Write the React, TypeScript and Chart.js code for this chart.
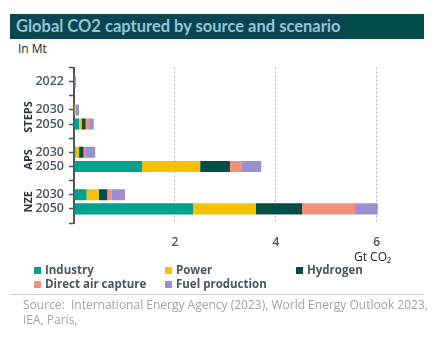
import React, { useEffect, useRef } from "react";
import { Chart, registerables } from "chart.js";

Chart.register(...registerables);

// Category rows (blank rows separate the scenario groups)
const rowLabels = ["", "2022", "", "2030", "2050", "", "2030", "2050", "", "2030", "2050", ""];
const scenarioNames = ["STEPS", "APS", "NZE"];
const scenarioRows = [
  [3, 4],
  [6, 7],
  [9, 10],
];

// Gt CO2
const industry = [null, 0, null, 0.01, 0.1, null, 0.03, 1.35, null, 0.25, 2.36, null];
const power = [null, 0, null, 0.01, 0.05, null, 0.07, 1.15, null, 0.24, 1.24, null];
const hydrogen = [null, 0, null, 0, 0.08, null, 0.09, 0.59, null, 0.17, 0.92, null];
const directAirCapture = [null, 0, null, 0.01, 0.07, null, 0.03, 0.24, null, 0.09, 1.05, null];
const fuelProduction = [null, 0.04, null, 0.07, 0.09, null, 0.2, 0.38, null, 0.26, 0.45, null];

const seriesNames = ["Industry", "Power", "Hydrogen", "Direct air capture", "Fuel production"];
const seriesColors = ["#00a18f", "#f4c200", "#004e49", "#f3907b", "#9a8fd1"];
const xTicks = [0, 2, 4, 6];

const AXIS = "#4a5560";
const FONT = "'Open Sans', 'Noto Sans', sans-serif";

export default function App() {
  const ref = useRef<HTMLCanvasElement | null>(null);

  useEffect(() => {
    if (!ref.current) return;
    const seriesData = [industry, power, hydrogen, directAirCapture, fuelProduction];
    const groupLabelPlugin = {
      id: "groupLabels",
      afterDraw(chart: any) {
        const ctx = chart.ctx;
        const y = chart.scales.y;
        ctx.save();
        ctx.font = `bold 11px ${FONT}`;
        ctx.fillStyle = "#2b3640";
        ctx.textAlign = "center";
        ctx.textBaseline = "middle";
        scenarioNames.forEach((name, i) => {
          const [a, b] = scenarioRows[i];
          const py = (y.getPixelForValue(a) + y.getPixelForValue(b)) / 2;
          ctx.save();
          ctx.translate(28.5, py);
          ctx.rotate(-Math.PI / 2);
          ctx.fillText(name, 0, 0);
          ctx.restore();
        });
        ctx.restore();
      },
    };

    const chart = new Chart(ref.current, {
      type: "bar",
      data: {
        labels: rowLabels,
        datasets: seriesNames.map((n, i) => ({
          label: n,
          data: seriesData[i] as any,
          backgroundColor: seriesColors[i],
          borderWidth: 0,
          barPercentage: 0.78,
          categoryPercentage: 1,
        })),
      },
      options: {
        indexAxis: "y",
        animation: false,
        responsive: false,
        maintainAspectRatio: false,
        layout: { padding: { top: 8, right: 40, bottom: 0, left: 0 } },
        plugins: { legend: { display: false }, tooltip: { enabled: false } },
        scales: {
          x: {
            type: "linear",
            stacked: true,
            min: 0,
            max: 6.5,
            afterBuildTicks: (s: any) => {
              s.ticks = xTicks.map((v) => ({ value: v }));
            },
            afterFit: (s: any) => {
              s.height = 42;
            },
            grid: {
              drawTicks: false,
              color: (c: any) => (c.tick && c.tick.value === 0 ? "rgba(0,0,0,0)" : "#b5b5b5"),
              lineWidth: 1,
            },
            border: { display: false, dash: [2, 2] },
            ticks: {
              padding: 12,
              color: AXIS,
              font: { family: FONT, size: 12, weight: "600" },
              callback: (v: any) => (v === 0 ? "" : String(v)),
            },
          },
          y: {
            type: "category",
            stacked: true,
            offset: false,
            afterFit: (s: any) => {
              s.width = 74;
            },
            grid: {
              offset: false,
              drawOnChartArea: false,
              drawTicks: true,
              tickLength: 5,
              tickColor: AXIS,
              tickWidth: 1.5,
            },
            border: { display: true, color: AXIS, width: 2 },
            ticks: {
              autoSkip: false,
              padding: 5,
              color: AXIS,
              font: { family: FONT, size: 12.5, weight: "600" },
            },
          },
        },
      },
      plugins: [groupLabelPlugin],
    });
    return () => chart.destroy();
  }, []);

  const legendItem = (i: number, left: number, top: number) => (
    <div
      key={i}
      style={{ position: "absolute", left, top, display: "flex", alignItems: "center", whiteSpace: "nowrap" }}
    >
      <span style={{ display: "inline-block", width: 7, height: 7, background: seriesColors[i], marginRight: 4 }} />
      <span style={{ font: `bold 11.5px ${FONT}`, color: AXIS, lineHeight: "14px" }}>{seriesNames[i]}</span>
    </div>
  );

  return (
    <div style={{ position: "absolute", left: 0, top: 0, width: 442, height: 337, background: "#fff", fontFamily: FONT }}>
      <div style={{ position: "absolute", left: 10, top: 14, width: 414, height: 25, background: "#024c4a" }}>
        <div
          style={{
            position: "absolute",
            left: 0,
            top: 0,
            width: 337,
            height: 25,
            background: "#0a4650",
            color: "#93c4d8",
            font: `bold 16.5px Lato, ${FONT}`,
            lineHeight: "25px",
            paddingLeft: 6,
            boxSizing: "border-box",
            whiteSpace: "nowrap",
          }}
        >
          Global CO2 captured by source and scenario
        </div>
      </div>
      <div style={{ position: "absolute", left: 18, top: 41, font: `12px ${FONT}`, color: "#222", lineHeight: "16px" }}>
        In Mt
      </div>
      <div style={{ position: "absolute", left: 0, top: 55, width: 442, height: 210 }}>
        <canvas ref={ref} width={442} height={210} style={{ width: 442, height: 210, display: "block" }} />
      </div>
      <div style={{ position: "absolute", left: 354, top: 249, font: `12px ${FONT}`, color: "#222", lineHeight: "16px" }}>
        Gt CO₂
      </div>
      {legendItem(0, 34, 263)}
      {legendItem(1, 165, 263)}
      {legendItem(2, 296, 263)}
      {legendItem(3, 34, 277)}
      {legendItem(4, 165, 277)}
      <div style={{ position: "absolute", left: 10, top: 294, width: 414, height: 1, background: "#d2d2d2" }} />
      <div
        style={{
          position: "absolute",
          left: 23,
          top: 297,
          width: 415,
          font: `12px ${FONT}`,
          color: "#a3a3a3",
          lineHeight: "15px",
          whiteSpace: "pre-wrap",
        }}
      >
        {"Source:  International Energy Agency (2023), World Energy Outlook 2023,\nIEA, Paris,"}
      </div>
    </div>
  );
}
